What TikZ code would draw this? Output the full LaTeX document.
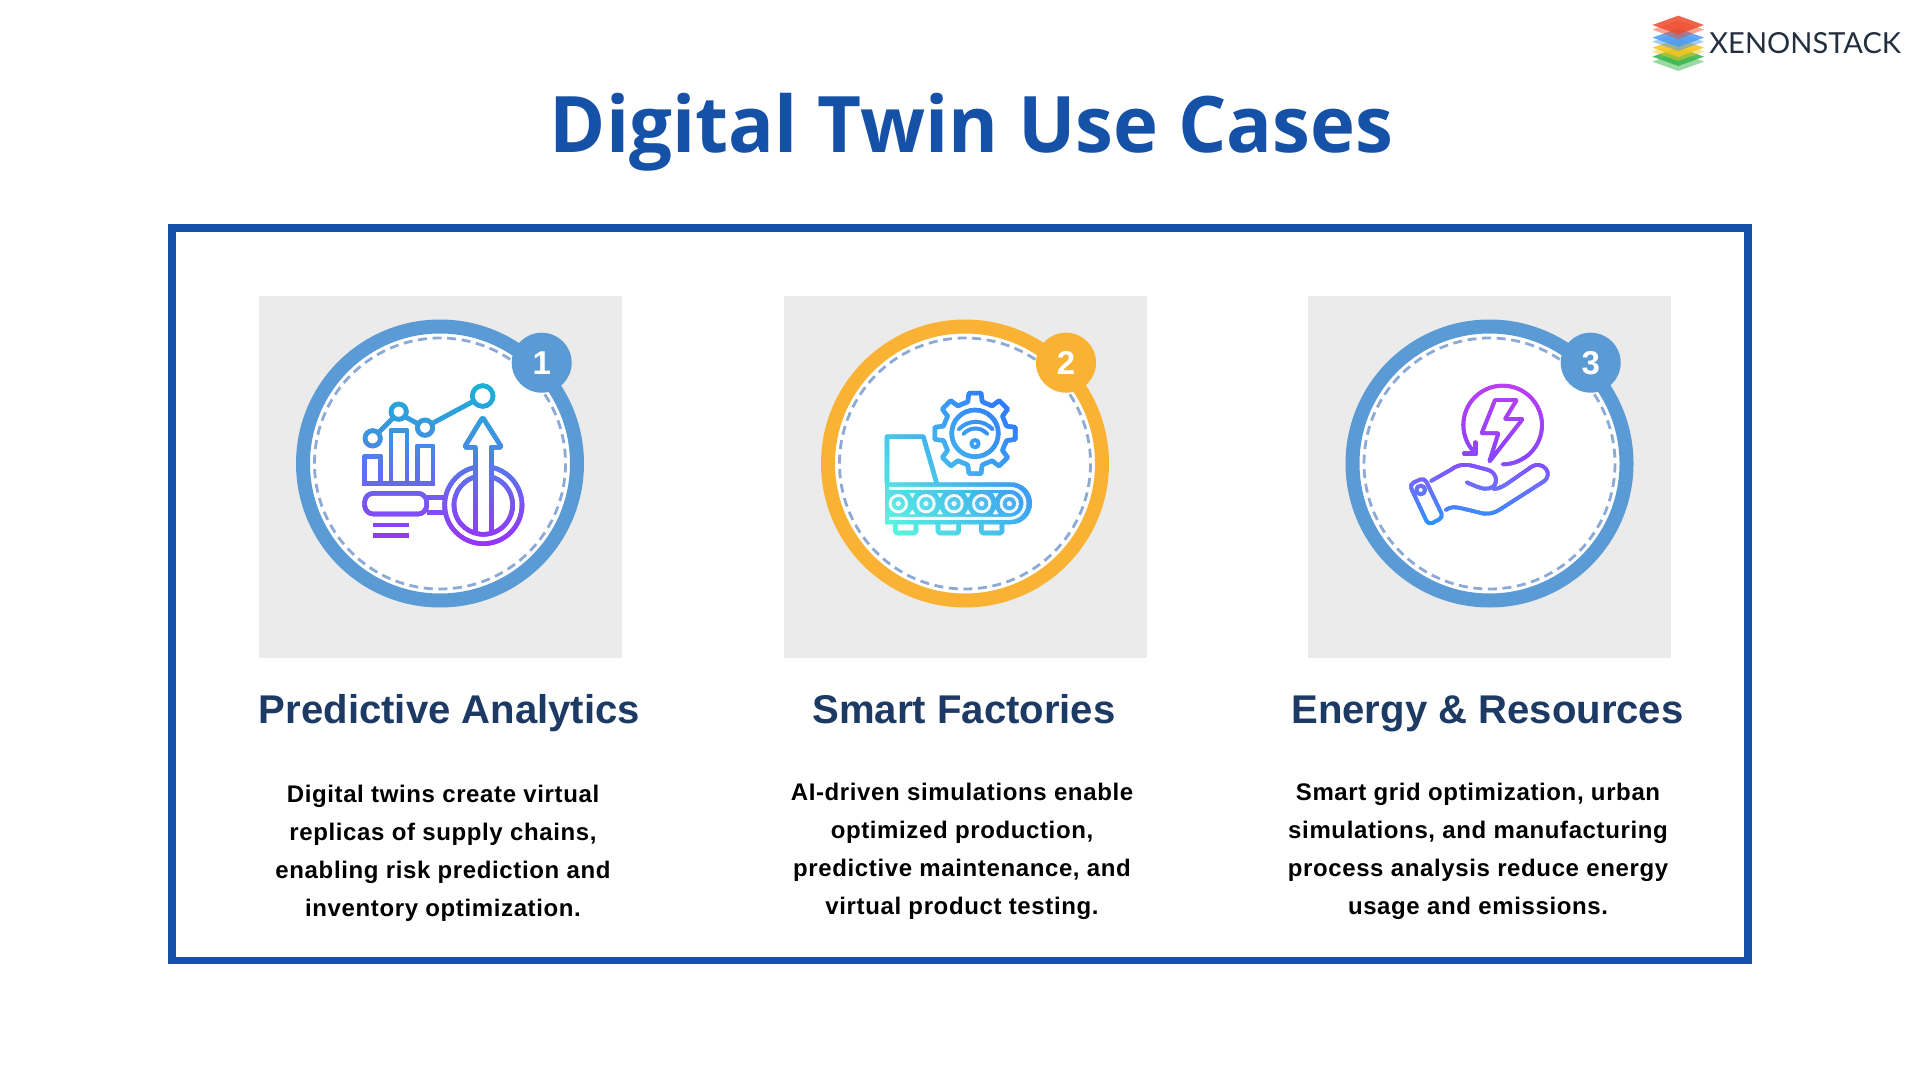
\documentclass[tikz,border=0pt]{standalone}
\usepackage{fontspec}
\setmainfont{Liberation Sans}
\newfontfamily\titlefont[FakeStretch=0.975]{Open Sans}
\newfontfamily\logofont{Lato}
\newfontfamily\bodyfont[LetterSpace=2.6]{Liberation Sans}
\definecolor{framecol}{HTML}{1651A8}
\definecolor{headcol}{HTML}{1C3A63}
\definecolor{ringblue}{HTML}{5B9BD5}
\definecolor{ringorange}{HTML}{F9B233}
\definecolor{dashcol}{HTML}{8CAAD5}
\definecolor{panelcol}{HTML}{EBEBEB}
\definecolor{logotext}{HTML}{232F3E}
\definecolor{lred}{HTML}{EE4B2B}
\definecolor{lblue}{HTML}{4A9BF5}
\definecolor{lyellow}{HTML}{F7C51C}
\definecolor{lgreen}{HTML}{35B44A}
\definecolor{aa}{HTML}{9A30FF}\definecolor{ab}{HTML}{7C52F5}\definecolor{ac}{HTML}{5B73EE}\definecolor{ad}{HTML}{3E92E0}\definecolor{ae}{HTML}{14B6D6}
\definecolor{ca}{HTML}{1E9BFF}\definecolor{cb}{HTML}{6F6CFF}\definecolor{cc}{HTML}{8A45FF}\definecolor{cd}{HTML}{C03CF5}
\definecolor{ba}{HTML}{2A6BFF}\definecolor{bb}{HTML}{5CFFDD}
\colorlet{bandcol}{black}
\tikzset{
  iconline/.style={draw=bandcol,line width=2.3pt,line join=round,line cap=round},
  iconthin/.style={iconline,line width=1.9pt},
  iconvoid/.style={fill=white,draw=none},
  iconsolid/.style={fill=bandcol,draw=none},
  iconunits/.style={x=0.166667pt,y=-0.166667pt}
}
\newcommand{\iconchart}{%
  \draw[iconline] (278,385) circle[radius=23];
  \draw[iconline] (356,305) circle[radius=23];
  \draw[iconline] (435,353) circle[radius=23];
  \draw[iconline] (608,258) circle[radius=31];
  \draw[iconline] (295,368) -- (338,325);
  \draw[iconline] (375,320) -- (415,342);
  \draw[iconline] (457,340) -- (578,275);
  \draw[iconline,line cap=butt] (247,520) -- (466,520);
  \draw[iconline,line cap=butt] (254,520) -- (254,440) -- (302,440) -- (302,520);
  \draw[iconline,line cap=butt] (333,520) -- (333,362) -- (381,362) -- (381,520);
  \draw[iconline,line cap=butt] (412,520) -- (412,408) -- (459,408) -- (459,520);
  \draw[iconline,rounded corners=4.3pt] (254,550) rectangle (440,612);
  \draw[iconline,line cap=butt] (442,562) -- (493,562);
  \draw[iconline,line cap=butt] (442,607) -- (493,607);
  \draw[iconline,line cap=butt] (610,585) ++(-102.4:116) arc[start angle=-102.4,end angle=-437.6,radius=116];
  \draw[iconline,line cap=butt] (610,585) ++(-105.8:88) arc[start angle=-105.8,end angle=-434.2,radius=88];
  \draw[iconline,line cap=butt] (586,415) -- (586,668);
  \draw[iconline,line cap=butt] (634,415) -- (634,668);
  \draw[iconline,rounded corners=1pt] (586,412) -- (553,412) -- (608,322) -- (665,412) -- (634,412);
  \draw[iconline,line cap=butt] (278,645) -- (388,645);
  \draw[iconline,line cap=butt] (278,677) -- (388,677);
}
\newcommand{\iconbelt}{%
  \begin{scope}[shift={(495,370)}]
    \draw[iconline] (-13:97) \foreach \a in {0,45,...,315}{ -- ({\a-13}:97) -- ({\a-8.5}:122) -- ({\a+8.5}:122) -- ({\a+13}:97)} -- cycle;
    \draw[iconline] (0,0) circle[radius=70];
  \end{scope}
  \draw[iconthin] (446,358) .. controls (475,328) and (520,328) .. (548,358);
  \draw[iconthin] (460,372) .. controls (480,350) and (512,350) .. (532,372);
  \draw[iconthin] (495,401) circle[radius=11];
  \draw[iconline,line cap=butt] (231,520) -- (231,380) -- (340,380) -- (380,520);
  \fill[iconsolid] (225,517) -- (603,517) arc[start angle=-90,end angle=90,radius=63] -- (225,643) -- cycle;
  \draw[draw=white,line width=1.5pt] (237,535) -- (600,535) arc[start angle=-90,end angle=90,radius=45] -- (237,625);
  \foreach \cx in {265,348,432,515,598}{
    \fill[iconvoid] (\cx,581) circle[radius=29];
    \fill[iconsolid] (\cx,581) circle[radius=20];
    \fill[iconvoid] (\cx,581) circle[radius=8];
  }
  \foreach \cx in {307,390,474,557}{
    \fill[iconvoid] (\cx-9,549) -- (\cx+9,549) -- (\cx,564) -- cycle;
    \fill[iconvoid] (\cx-9,613) -- (\cx+9,613) -- (\cx,598) -- cycle;
  }
  \foreach \fx in {256,384,514}{
    \draw[iconline,rounded corners=0.8pt] (\fx,640) -- (\fx,669) -- (\fx+62,669) -- (\fx+62,640);
  }
}
\newcommand{\iconhand}{%
  \draw[iconthin] (518,463) arc[start angle=90,end angle=-222,radius=118];
  \draw[iconline] (437,398) -- (437,430) -- (403,430);
  \draw[iconthin,rounded corners=0.3pt] (495,270) -- (560,270) -- (525,327) -- (578,327) -- (478,455) -- (505,370) -- (455,370) -- cycle;
  \draw[iconthin,rounded corners=2.3pt] (238,523) -- (283,503) -- (340,622) -- (295,645) -- cycle;
  \draw[iconthin] (272,540) circle[radius=13];
  \draw[iconthin] (303,513) -- (365,478) .. controls (385,462) and (410,462) .. (430,468) -- (475,480) .. controls (505,490) and (505,530) .. (478,535) .. controls (460,540) and (440,530) .. (410,517);
  \draw[iconthin] (490,537) .. controls (510,537) and (525,525) .. (540,515) -- (605,470) .. controls (635,450) and (675,490) .. (640,515) -- (515,595) .. controls (490,612) and (470,615) .. (445,607) -- (395,595) .. controls (375,590) and (360,590) .. (347,600);
}
% vertical colour bands: a copy of the icon per band, clipped to that band
\newcommand{\bandsvertical}[2]{%
  \foreach \ya/\yb/\ca/\cb in {#2}{
    \pgfmathtruncatemacro\nsteps{(\yb-\ya)/6}
    \foreach \k in {0,...,\nsteps}{
      \pgfmathsetmacro\yc{\ya+\k*6}
      \pgfmathtruncatemacro\pct{100*\k/\nsteps}
      \colorlet{bandcol}{\cb!\pct!\ca}
      \begin{scope}
        \clip (0,\yc) rectangle (960,\yc+9);
        #1
      \end{scope}
    }
  }
}
\newcommand{\bandsdiagonal}[1]{%
  \foreach \k in {0,...,108}{
    \pgfmathsetmacro\dc{-400+\k*8}
    \pgfmathtruncatemacro\pct{100*\k/108}
    \colorlet{bandcol}{bb!\pct!ba}
    \begin{scope}
      \clip (0,\dc) -- (960,960+\dc) -- (960,972+\dc) -- (0,12+\dc) -- cycle;
      #1
    \end{scope}
  }
}
\begin{document}
\begin{tikzpicture}[x=0.5pt,y=-0.5pt,
  panelbox/.style={fill=panelcol,draw=none},
  ringmain/.style={fill=white,line width=7pt},
  ringdash/.style={draw=dashcol,line width=1.4pt,dash pattern=on 4.5pt off 2.8pt},
  badge/.style={circle,minimum size=30pt,inner sep=0pt,text=white,font=\fontsize{16.5}{18}\selectfont\bfseries},
  cardtitle/.style={anchor=base,text=headcol,font=\fontsize{20.05}{22}\selectfont\bfseries},
  cardtext/.style={anchor=center,align=center,text=black,font=\bodyfont\fontsize{12}{19}\selectfont\bfseries},
  layermain/.style={fill opacity=0.85,draw=none},
  layerlight/.style={fill opacity=0.5,draw=none}
]
\useasboundingbox (0,0) rectangle (1920,1080);
\fill[white] (0,0) rectangle (1920,1080);
% logo
\begin{scope}[shift={(1640,5)},iconunits]
  \foreach \cy/\cc/\st in {170/lgreen/layerlight,155/lgreen/layermain,140/lyellow/layerlight,128/lyellow/layermain,110/lblue/layerlight,98/lblue/layermain,74/lred/layerlight,60/lred/layermain}{
    \fill[\cc,\st] (37,\cy) -- (115,\cy-28) -- (192,\cy) -- (115,\cy+28) -- cycle;
  }
\end{scope}
\node[anchor=base west,inner sep=0pt,text=logotext,font=\logofont\fontsize{14.5}{16}\selectfont] (logotxt) at (1709,54) {XENONSTACK};
% title
\node[anchor=base,inner sep=0pt,text=framecol,font=\titlefont\fontsize{39}{42}\selectfont\bfseries] (title) at (971.5,153) {Digital Twin Use Cases};
% frame
\draw[framecol,line width=3.9pt] (172,228) rectangle (1748,960.4);
% panels
\fill[panelbox] (259,296) rectangle (621.5,658);
\fill[panelbox] (784,296) rectangle (1146.5,658);
\fill[panelbox] (1308,296) rectangle (1670.5,658);
% rings
\draw[ringmain,draw=ringblue] (440,463.5) circle[radius=137];
\draw[ringmain,draw=ringorange] (965,463.5) circle[radius=137];
\draw[ringmain,draw=ringblue] (1489.5,463.5) circle[radius=137];
\draw[ringdash] (440,463.5) circle[radius=125.5];
\draw[ringdash] (965,463.5) circle[radius=125.5];
\draw[ringdash] (1489.5,463.5) circle[radius=125.5];
% icons
\begin{scope}[shift={(280,310)},iconunits]
  \bandsvertical{\iconchart}{200/385/ae/ad,385/480/ad/ac,480/590/ac/ab,590/720/ab/aa}
\end{scope}
\begin{scope}[shift={(810,310)},iconunits]
  \bandsdiagonal{\iconbelt}
\end{scope}
\begin{scope}[shift={(1330,310)},iconunits]
  \bandsvertical{\iconhand}{200/440/cd/cc,440/520/cc/cb,520/670/cb/ca}
\end{scope}
% badges
\node[badge,fill=ringblue] (badgeone) at (541.7,362.7) {1};
\node[badge,fill=ringorange] (badgetwo) at (1066,362.7) {2};
\node[badge,fill=ringblue] (badgethree) at (1590.7,362.7) {3};
% headings
\node[cardtitle] (headone) at (449.5,723) {Predictive Analytics};
\node[cardtitle] (headtwo) at (964,723) {Smart Factories};
\node[cardtitle] (headthree) at (1487.5,723) {Energy \& Resources};
% texts
\node[cardtext] (textone) at (443,852.8) {Digital twins create virtual\\replicas of supply chains,\\enabling risk prediction and\\inventory optimization.};
\node[cardtext] (texttwo) at (962,851.3) {AI-driven simulations enable\\optimized production,\\predictive maintenance, and\\virtual product testing.};
\node[cardtext] (textthree) at (1478,851.7) {Smart grid optimization, urban\\simulations, and manufacturing\\process analysis reduce energy\\usage and emissions.};
\end{tikzpicture}
\end{document}
